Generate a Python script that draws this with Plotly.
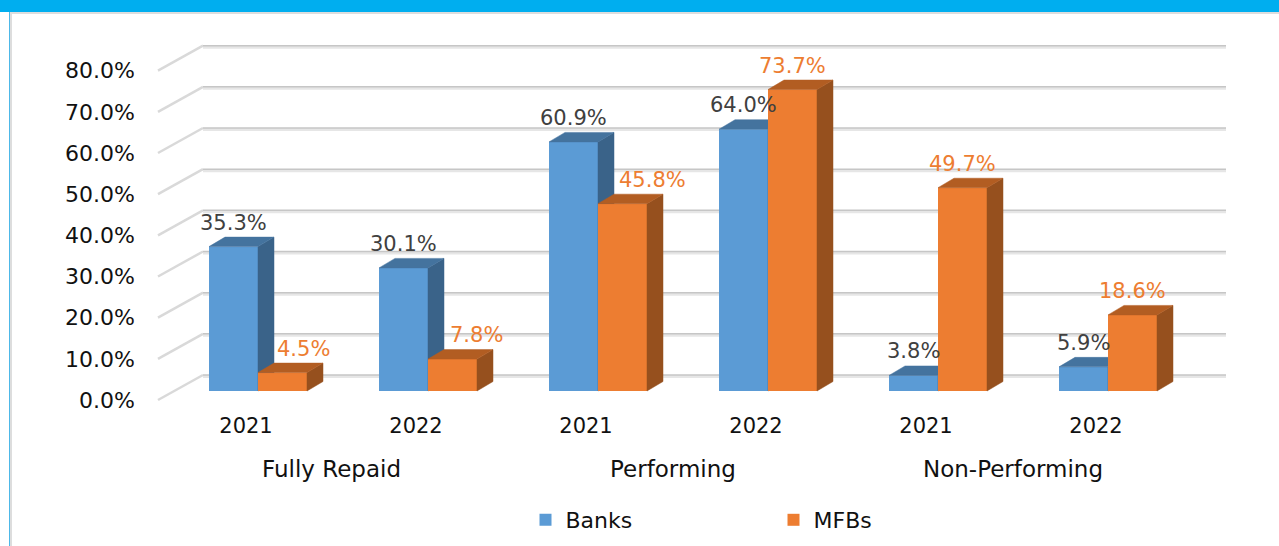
import plotly.graph_objects as go

years = ["2021", "2022", "2021", "2022", "2021", "2022"]
groups = ["Fully Repaid", "Performing", "Non-Performing"]
banks = [35.3, 30.1, 60.9, 64.0, 3.8, 5.9]
mfbs = [4.5, 7.8, 45.8, 73.7, 49.7, 18.6]
y_ticks = [0, 10, 20, 30, 40, 50, 60, 70, 80]

W, H = 1279, 546
WALL_L, WALL_R = 158, 1181           # front edge of the floor, pixels
ZERO_PX, EIGHTY_PX = 400, 70.7       # front wall 0% and 80%, pixels
PLOT_L, PLOT_R, PLOT_T, PLOT_B = 150, 1240, 30, 405   # clip box of the axes
PX_X = 170.0                         # pixels per category
PX_Y = (ZERO_PX - EIGHTY_PX) / 80    # pixels per percentage point
X0_PX = 246.0                        # pixel of the first category
cat = lambda p: (p - X0_PX) / PX_X
pct = lambda p: (ZERO_PX - p) / PX_Y
ux = lambda p: p / PX_X
uy = lambda p: p / PX_Y
xp = lambda p: p / W
yp = lambda p: 1 - p / H

BLUE, BLUE_TOP, BLUE_SIDE = "#5B9BD5", "#44739E", "#3A6389"
ORANGE, ORANGE_TOP, ORANGE_SIDE = "#ED7D31", "#B25D22", "#96501E"
LABEL_GREY = "#404040"
TEXT = "#111111"
FONT = "DejaVu Sans"

BAR_W = ux(49)
BAR_DX, BAR_DY = ux(12), uy(9)       # how far the bar front sits inside the floor
DEP_X, DEP_Y = ux(16), uy(9.5)       # bar depth
WALL_X, WALL_Y = ux(45), uy(25)      # wall depth
BAR_SCALE = 0.9937                   # bars stand slightly further back than the axis
xmin, xmax = cat(WALL_L), cat(WALL_R)


def bar_polys(values, sign):
    side_x, side_y, top_x, top_y, cx, ty = [], [], [], [], [], []
    for i, v in enumerate(values):
        c = i + BAR_DX + sign * BAR_W / 2
        x1, x2 = c - BAR_W / 2, c + BAR_W / 2
        y0 = BAR_DY
        y1 = BAR_DY + v * BAR_SCALE
        side_x += [x2, x2 + DEP_X, x2 + DEP_X, x2, x2, None]
        side_y += [y0, y0 + DEP_Y, y1 + DEP_Y, y1, y0, None]
        top_x += [x1, x1 + DEP_X, x2 + DEP_X, x2, x1, None]
        top_y += [y1, y1 + DEP_Y, y1 + DEP_Y, y1, y1, None]
        cx.append(c)
        ty.append(y1)
    return side_x, side_y, top_x, top_y, cx, ty


fig = go.Figure()

# walls
diag_x, diag_y, back_x, back_y, back2_x, back2_y = [], [], [], [], [], []
for v in y_ticks:
    diag_x += [xmin, xmin + WALL_X, None]
    diag_y += [v, v + WALL_Y, None]
    back_x += [xmin + WALL_X, xmax + WALL_X, None]
    back_y += [v + WALL_Y, v + WALL_Y, None]
    back2_x += [xmin + WALL_X, xmax + WALL_X, None]
    back2_y += [v + WALL_Y - uy(1.5), v + WALL_Y - uy(1.5), None]
fig.add_trace(go.Scatter(x=diag_x, y=diag_y, mode="lines", showlegend=False, hoverinfo="skip",
                         line=dict(color="#D9D9D9", width=2.5)))
fig.add_trace(go.Scatter(x=back2_x, y=back2_y, mode="lines", showlegend=False, hoverinfo="skip",
                         line=dict(color="#E6E6E6", width=3)))
fig.add_trace(go.Scatter(x=back_x, y=back_y, mode="lines", showlegend=False, hoverinfo="skip",
                         line=dict(color="#C6C6C6", width=1.5)))

annotations = []
label_nudges = {"4.5%": 21, "7.8%": 24, "45.8%": 30}
group_nudges = {"Performing": 2, "Non-Performing": 2}

for name, values, sign, face, top, side, ax, lab_col in [
    ("Banks", banks, -1, BLUE, BLUE_TOP, BLUE_SIDE, "2", LABEL_GREY),
    ("MFBs", mfbs, 1, ORANGE, ORANGE_TOP, ORANGE_SIDE, "3", ORANGE),
]:
    sx, sy, tx, ty, cx, tops = bar_polys(values, sign)
    fig.add_trace(go.Bar(x=cx, y=[v * BAR_SCALE for v in values], base=BAR_DY, width=BAR_W, name=name,
                         marker=dict(color=face, line=dict(width=0)),
                         xaxis="x" + ax, yaxis="y" + ax, customdata=values,
                         hovertemplate=name + ": %{customdata:.1f}%<extra></extra>"))
    for px, py, col in [(sx, sy, side), (tx, ty, top)]:
        fig.add_trace(go.Scatter(x=px, y=py, mode="lines", fill="toself", fillcolor=col,
                                 line=dict(color=col, width=0.5), showlegend=False, hoverinfo="skip",
                                 xaxis="x" + ax, yaxis="y" + ax))
    for c, t, v in zip(cx, tops, values):
        txt = f"{v:.1f}%"
        annotations.append(dict(x=c, y=t, xref="x", yref="y", text=txt, showarrow=False,
                                xanchor="center", yanchor="middle", yshift=24,
                                xshift=label_nudges.get(txt, 0),
                                font=dict(family=FONT, size=21, color=lab_col)))

for i, g in enumerate(groups):
    annotations.append(dict(x=2 * i + 0.5, y=yp(469), xref="x", yref="paper", text=g, showarrow=False,
                            xanchor="center", yanchor="middle", xshift=group_nudges.get(g, 0),
                            font=dict(family=FONT, size=23, color=TEXT)))

frame = [
    dict(type="rect", xref="paper", yref="paper", x0=xp(0), x1=xp(W), y0=yp(0), y1=yp(12),
         fillcolor="#00AEEF", line=dict(width=0), layer="below"),
    dict(type="rect", xref="paper", yref="paper", x0=xp(10), x1=xp(W), y0=yp(12), y1=yp(14),
         fillcolor="#DDDDDD", line=dict(width=0), layer="below"),
    dict(type="rect", xref="paper", yref="paper", x0=xp(9), x1=xp(10), y0=yp(12), y1=yp(H),
         fillcolor="#4DB8E8", line=dict(width=0), layer="below"),
    dict(type="rect", xref="paper", yref="paper", x0=xp(10), x1=xp(12), y0=yp(13), y1=yp(H),
         fillcolor="#DDDDDD", line=dict(width=0), layer="below"),
]

x_dom = [xp(PLOT_L), xp(PLOT_R)]
y_dom = [yp(PLOT_B), yp(PLOT_T)]
x_rng = [cat(PLOT_L), cat(PLOT_R)]
y_rng = [pct(PLOT_B), pct(PLOT_T)]
hidden = dict(visible=False, showgrid=False, zeroline=False)
fig.update_layout(
    width=W, height=H, autosize=False,
    margin=dict(l=0, r=0, t=0, b=0, pad=0, autoexpand=False),
    paper_bgcolor="white", plot_bgcolor="rgba(0,0,0,0)",
    showlegend=True,
    legend=dict(orientation="h", x=xp(525.5), xanchor="left",
                y=yp(520), yanchor="middle",
                entrywidth=203, entrywidthmode="pixels", traceorder="normal",
                font=dict(family=FONT, size=22, color=TEXT), bgcolor="rgba(0,0,0,0)"),
    xaxis=dict(domain=x_dom, range=x_rng, tickmode="array", tickvals=list(range(6)), ticktext=years,
               showgrid=False, zeroline=False, showline=False, ticks="", ticklabelstandoff=6,
               tickfont=dict(family=FONT, size=21, color=TEXT)),
    yaxis=dict(domain=y_dom, range=y_rng, tickmode="array", tickvals=y_ticks, ticktext=[f"{v:.1f}%" for v in y_ticks],
               showgrid=False, zeroline=False, showline=False, ticks="", ticklabelstandoff=14,
               tickfont=dict(family=FONT, size=22, color=TEXT)),
    xaxis2=dict(domain=x_dom, overlaying="x", matches="x", **hidden),
    yaxis2=dict(domain=y_dom, overlaying="y", matches="y", **hidden),
    xaxis3=dict(domain=x_dom, overlaying="x", matches="x", **hidden),
    yaxis3=dict(domain=y_dom, overlaying="y", matches="y", **hidden),
    annotations=annotations,
    shapes=frame,
)

fig.write_html("out.html", config={"displayModeBar": False}, post_script="document.body.style.margin='0';")
